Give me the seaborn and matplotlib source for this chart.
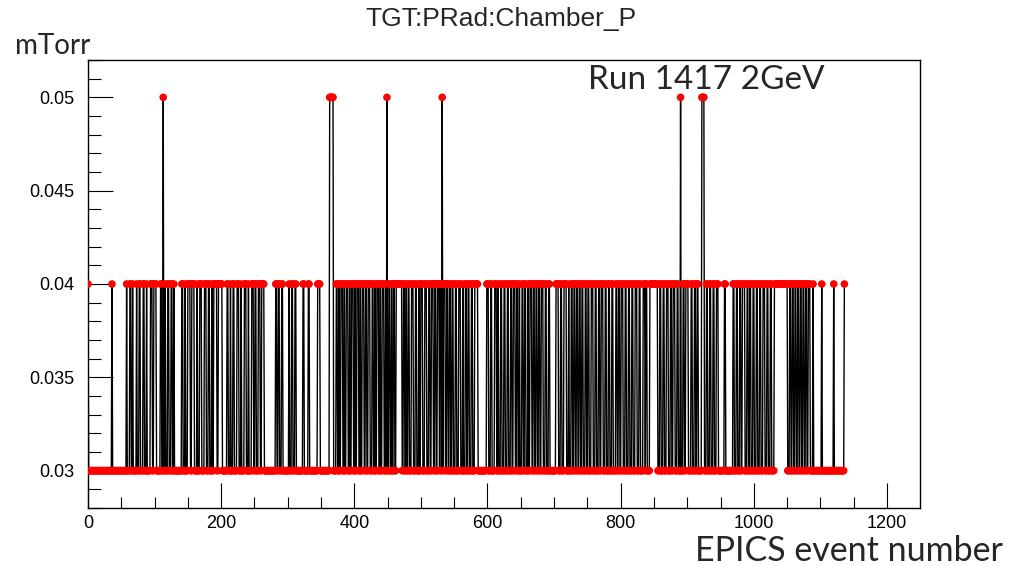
import numpy as np
import pandas as pd
import matplotlib
matplotlib.use("Agg")
import matplotlib.pyplot as plt
import seaborn as sns
from matplotlib.ticker import FixedLocator, MultipleLocator

# Chamber pressure readings per EPICS event.
# Every event sits at the base level except the runs listed below.
N_EVENTS = 1137
BASE_LEVEL = 0.03
HIGH_LEVEL = 0.04
SPIKE_LEVEL = 0.05

# (first event, last event) at 0.04 mTorr
HIGH_RUNS = [
    (0, 0), (36, 36),
    (58, 58), (63, 64), (67, 67), (73, 73), (77, 78), (83, 84), (88, 88),
    (94, 96), (99, 102),
    (109, 110), (116, 116), (120, 121), (125, 126), (129, 129),
    (141, 142), (146, 146), (150, 153), (156, 159),
    (164, 164), (168, 170), (175, 177),
    (181, 182), (186, 186), (189, 193), (196, 201),
    (209, 210), (214, 214), (218, 219), (224, 226), (230, 230), (235, 237),
    (241, 241), (246, 247), (251, 252), (256, 258),
    (247, 248), (252, 252), (261, 264), (282, 283), (286, 287), (291, 292),
    (302, 302), (306, 307), (311, 312), (323, 324), (331, 332), (345, 348),
    (373, 374), (377, 377), (380, 382), (385, 385), (388, 390), (393, 393),
    (396, 398), (401, 401), (404, 406), (409, 409), (412, 414), (417, 418),
    (421, 423), (427, 428), (431, 431), (434, 436), (439, 439), (442, 444),
    (447, 447),
    (452, 453), (456, 456), (459, 460), (463, 471), (474, 475), (478, 478),
    (481, 482), (486, 488), (492, 493), (497, 497), (500, 502), (506, 508),
    (512, 513),
    (516, 518), (521, 522), (525, 527), (529, 530), (534, 536), (539, 540),
    (543, 544), (547, 548), (552, 553), (557, 559), (563, 563), (567, 568),
    (571, 572), (576, 577), (581, 585),
    (599, 601), (605, 606), (611, 613), (616, 616), (620, 621), (625, 626),
    (630, 631), (635, 636), (639, 641), (644, 645), (648, 648), (652, 653),
    (656, 657), (661, 661), (664, 666), (669, 670), (673, 674), (677, 678),
    (681, 683), (687, 688), (692, 693),
    (703, 706), (710, 711), (715, 718), (722, 722), (726, 727), (730, 731),
    (734, 735), (738, 739), (742, 743), (747, 748), (751, 752), (756, 758),
    (762, 763), (767, 768), (771, 773), (777, 778), (782, 783), (787, 788),
    (793, 794), (797, 798),
    (801, 803), (807, 808), (812, 813), (817, 818), (822, 824), (828, 829),
    (834, 836), (838, 839), (844, 855),
    (859, 860), (864, 865), (869, 871), (875, 876), (879, 881), (885, 886),
    (894, 895), (898, 901),
    (906, 907), (911, 912), (915, 916), (929, 930), (934, 935), (939, 940),
    (944, 946), (956, 957),
    (969, 970), (974, 975), (979, 980), (983, 986), (990, 991), (994, 995),
    (999, 1000), (1004, 1005), (1009, 1010), (1014, 1016), (1020, 1021),
    (1025, 1026),
    (1031, 1050), (1054, 1055), (1058, 1059), (1062, 1063), (1066, 1067),
    (1070, 1071), (1074, 1075), (1078, 1079), (1082, 1084), (1089, 1089),
    (1102, 1102), (1120, 1120), (1136, 1136),
]

# (first event, last event) at 0.05 mTorr
SPIKE_RUNS = [(113, 113), (363, 368), (449, 449), (532, 532), (890, 890), (922, 925)]

Y_TICKS = [0.03, 0.035, 0.04, 0.045, 0.05]
Y_TICK_LABELS = ["0.03", "0.035", "0.04", "0.045", "0.05"]
X_TICKS = [0, 200, 400, 600, 800, 1000, 1200]
X_TICK_LABELS = ["0", "200", "400", "600", "800", "1000", "1200"]

event = np.arange(N_EVENTS)
pressure = np.full(N_EVENTS, BASE_LEVEL)
for s, e in HIGH_RUNS:
    pressure[s:e + 1] = HIGH_LEVEL
for s, e in SPIKE_RUNS:
    pressure[s:e + 1] = SPIKE_LEVEL
df = pd.DataFrame({"event": event, "pressure": pressure})

sns.set_theme(style="white")
plt.rcParams["font.family"] = ["Liberation Sans", "DejaVu Sans"]

W, H = 1026, 567
fig = plt.figure(figsize=(W / 100, H / 100), dpi=100)
fig.patch.set_facecolor("white")
ax = fig.add_axes([88 / W, 1 - 508 / H, 832 / W, 448 / H])

# graph line (ROOT "APL": line first, markers on top)
sns.lineplot(data=df, x="event", y="pressure", color="black", lw=1.0,
             estimator=None, sort=False, ax=ax, zorder=2)
sns.scatterplot(data=df, x="event", y="pressure", color="red", s=30,
                edgecolor="none", linewidth=0, ax=ax, zorder=3)

ax.set_xlim(0, 1249.6)
ax.set_ylim(0.028, 0.052)
ax.set_xlabel("")
ax.set_ylabel("")

ax.yaxis.set_major_locator(FixedLocator(Y_TICKS))
ax.set_yticklabels(Y_TICK_LABELS)
ax.yaxis.set_minor_locator(MultipleLocator(0.001))
ax.xaxis.set_major_locator(FixedLocator(X_TICKS))
ax.set_xticklabels(X_TICK_LABELS)
ax.xaxis.set_minor_locator(MultipleLocator(50))

ax.tick_params(which="both", direction="in", colors="black", width=0.8,
               labelsize=13, top=False, right=False, left=True, bottom=True)
ax.tick_params(axis="y", which="major", length=18, pad=10)
ax.tick_params(axis="y", which="minor", length=9)
ax.tick_params(axis="x", which="major", length=18, pad=5)
ax.tick_params(axis="x", which="minor", length=8)

for sp in ax.spines.values():
    sp.set_visible(True)
    sp.set_color("black")
    sp.set_linewidth(1.0)

fig.text(501 / W, 1 - 19 / H, "TGT:PRad:Chamber_P", ha="center", va="center",
         fontsize=19, family=["Liberation Sans", "DejaVu Sans"])
fig.text(15 / W, 1 - 54 / H, "mTorr", ha="left", va="baseline",
         fontsize=20, family=["Lato", "DejaVu Sans"])
fig.text(588 / W, 1 - 89 / H, "Run 1417 2GeV", ha="left", va="baseline",
         fontsize=24, family=["Lato", "DejaVu Sans"])
fig.text(1003 / W, 1 - 561 / H, "EPICS event number", ha="right", va="baseline",
         fontsize=24.5, family=["Lato", "DejaVu Sans"])

fig.savefig("out.png", dpi=100, facecolor="white")
